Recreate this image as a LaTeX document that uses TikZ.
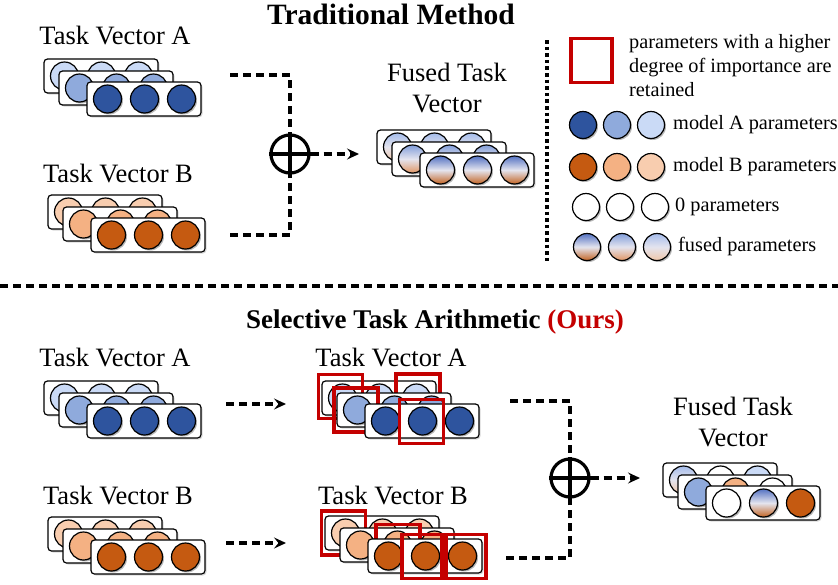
\documentclass[tikz,border=0pt]{standalone}
\usepackage{fontspec}
\setmainfont{Liberation Serif}
\usetikzlibrary{arrows.meta,shadows}
\definecolor{Ad}{RGB}{46,84,158}
\definecolor{Am}{RGB}{143,170,220}
\definecolor{Al}{RGB}{202,218,246}
\definecolor{Bd}{RGB}{197,90,17}
\definecolor{Bm}{RGB}{244,177,131}
\definecolor{Bl}{RGB}{248,205,175}
\definecolor{Fdt}{RGB}{85,115,195}
\definecolor{Fdb}{RGB}{195,100,35}
\definecolor{Fmt}{RGB}{130,158,218}
\definecolor{Fmb}{RGB}{225,150,100}
\definecolor{Flt}{RGB}{165,188,235}
\definecolor{Flb}{RGB}{240,198,168}
\definecolor{Fmid}{RGB}{228,228,238}
\definecolor{selred}{RGB}{196,0,0}
\tikzset{
  vrect/.style={draw=black, line width=1.2pt, rounded corners=3.5pt, fill=white,
    minimum width=114pt, minimum height=34pt, inner sep=0pt, outer sep=0pt,
    drop shadow={shadow xshift=1.5pt, shadow yshift=-1.5pt, opacity=0.3}},
  par/.style={circle, draw=black, line width=1.2pt, minimum size=28pt, inner sep=0pt, outer sep=0pt},
  pshadow/.style={fill=black, opacity=0.28},
  cAd/.style={fill=Ad}, cAm/.style={fill=Am}, cAl/.style={fill=Al},
  cBd/.style={fill=Bd}, cBm/.style={fill=Bm}, cBl/.style={fill=Bl},
  cZ/.style={fill=white},
  cFd/.style={top color=Fdt, bottom color=Fdb, middle color=Fmid},
  cFm/.style={top color=Fmt, bottom color=Fmb, middle color=Fmid},
  cFl/.style={top color=Flt, bottom color=Flb, middle color=Fmid},
  sel/.style={rectangle, draw=selred, line width=3.2pt, minimum size=44pt, inner sep=0pt},
  dline/.style={line width=3.1pt, dash pattern=on 8pt off 5pt},
  darrow/.style={dline, -{Stealth[length=12pt,width=11pt,inset=4.5pt]}},
  oplus/.style={circle, draw=black, line width=3.2pt, minimum size=38pt, inner sep=0pt},
  lbl/.style={font=\fontsize{26.5}{31}\selectfont, inner sep=0pt, align=center},
  ttlA/.style={font=\fontsize{29.5}{32}\selectfont\bfseries, inner sep=0pt},
  ttlB/.style={font=\fontsize{27}{32}\selectfont\bfseries, inner sep=0pt},
  leg/.style={font=\fontsize{20.3}{24}\selectfont, inner sep=0pt, align=left},
  legc/.style={par, minimum size=27pt}
}
\newcommand\vrow[6]{%
  \node[vrect, anchor=north west] (#1) at (#2,#3) {};
  \fill[pshadow] ({#2+22},{#3+18.5}) circle (14);
  \fill[pshadow] ({#2+59},{#3+18.5}) circle (14);
  \fill[pshadow] ({#2+96},{#3+18.5}) circle (14);
  \node[par,#4] (#1-1) at ({#2+20.5},{#3+17}) {};
  \node[par,#5] (#1-2) at ({#2+57.5},{#3+17}) {};
  \node[par,#6] (#1-3) at ({#2+94.5},{#3+17}) {};
}
\newcommand\vgroup[6]{%
  \vrow{#1b}{#2}{#3}{#4}{#4}{#4}
  \vrow{#1m}{#2+15}{#3+12}{#5}{#5}{#5}
  \vrow{#1f}{#2+43}{#3+23}{#6}{#6}{#6}
}
\begin{document}
\begin{tikzpicture}[x=1pt,y=-1pt]
\useasboundingbox[fill=white] (0,0) rectangle (838,584);

% ---------- Traditional method ----------
\node[ttlA] (t1) at (391,14) {Traditional Method};
\node[lbl] (uAt) at (115,36) {Task Vector A};
\node[lbl] (uBt) at (118,174) {Task Vector B};
\node[lbl] (uFt) at (447,88) {Fused Task\\Vector};

\vgroup{uA}{44}{59}{cAl}{cAm}{cAd}
\vgroup{uB}{48}{195}{cBl}{cBm}{cBd}
\vgroup{uF}{377}{130}{cFl}{cFm}{cFd}

\node[oplus] (op1) at (290,154) {};
\draw[line width=3.2pt] (op1.north) -- (op1.south) (op1.west) -- (op1.east);
\coordinate (ua) at (230,75);
\coordinate (ub) at (230,235);
\coordinate (ue) at (359,154);
\draw[dline] (ua) -| (op1.north);
\draw[dline] (ub) -| (op1.south);
\draw[darrow] (op1.east) -- (ue);

% legend
\coordinate (d1) at (547,40);
\coordinate (d2) at (547,262);
\draw[line width=3.6pt, dash pattern=on 3.6pt off 3pt] (d1) -- (d2);
\node[rectangle, draw=selred, line width=3.2pt, minimum width=41pt, minimum height=44pt, inner sep=0pt] (lsel) at (591.5,60.5) {};
\node[leg, anchor=west] (lselt) at (629,66) {parameters with a higher\\degree of importance are\\retained};

\foreach \i/\xx/\s in {1/583/Ad,2/617/Am,3/651/Al}{
  \fill[pshadow] (\xx+1.5,126.5) circle (13.5);
  \node[legc, fill=\s] (lA\i) at (\xx,125) {};
}
\node[leg, anchor=west] (lAt) at (673,125) {model A parameters};
\foreach \i/\xx/\s in {1/583/Bd,2/617/Bm,3/651/Bl}{
  \fill[pshadow] (\xx+1.5,168.5) circle (13.5);
  \node[legc, fill=\s] (lB\i) at (\xx,167) {};
}
\node[leg, anchor=west] (lBt) at (673,167) {model B parameters};
\foreach \i/\xx in {1/586,2/620,3/655}{
  \fill[pshadow] (\xx+1.5,208.5) circle (13.5);
  \node[legc, fill=white] (lZ\i) at (\xx,207) {};
}
\node[leg, anchor=west] (lZt) at (675,207) {0 parameters};
\fill[pshadow] (588.5,248.5) circle (13.5);
\fill[pshadow] (623.5,248.5) circle (13.5);
\fill[pshadow] (658.5,248.5) circle (13.5);
\node[legc, cFd] (lF1) at (587,247) {};
\node[legc, cFm] (lF2) at (622,247) {};
\node[legc, cFl] (lF3) at (657,247) {};
\node[leg, anchor=west] (lFt) at (678,247) {fused parameters};

% separator
\coordinate (s1) at (0,286);
\coordinate (s2) at (838,286);
\draw[line width=3.1pt, dash pattern=on 8pt off 5pt] (s1) -- (s2);

% ---------- Selective Task Arithmetic ----------
\node[ttlB] (t2) at (435,322) {Selective Task Arithmetic \textcolor{selred}{(Ours)}};
\node[lbl] (lAt2) at (115,358) {Task Vector A};
\node[lbl] (lBt2) at (118,495) {Task Vector B};
\node[lbl] (mAt) at (391,358) {Task Vector A};
\node[lbl] (mBt) at (393,495) {Task Vector B};
\node[lbl] (lFt2) at (733,422) {Fused Task\\Vector};

\vgroup{lA}{44}{381}{cAl}{cAm}{cAd}
\vgroup{lB}{48}{517}{cBl}{cBm}{cBd}

% middle A with selections
\vrow{mAb}{322}{381}{cAl}{cAl}{cAl}
\node[sel] (sA1) at ([shift={(-2pt,1.5pt)}]mAb-1) {};
\node[sel] (sA2) at ([shift={(1.5pt,2pt)}]mAb-3) {};
\vrow{mAm}{337}{393}{cAm}{cAm}{cAm}
\node[sel] (sA3) at ([shift={(-1.5pt,0pt)}]mAm-1) {};
\vrow{mAf}{365}{404}{cAd}{cAd}{cAd}
\node[sel] (sA4) at ([shift={(-1pt,-0.5pt)}]mAf-2) {};

% middle B with selections
\vrow{mBb}{325}{516}{cBl}{cBl}{cBl}
\node[sel] (sB1) at ([shift={(-2pt,0pt)}]mBb-1) {};
\vrow{mBm}{340}{528}{cBm}{cBm}{cBm}
\node[sel] (sB2) at ([shift={(0.5pt,-1.5pt)}]mBm-2) {};
\vrow{mBf}{368}{539}{cBd}{cBd}{cBd}
\node[sel] (sB3) at ([shift={(-1.5pt,-0.5pt)}]mBf-2) {};
\node[sel] (sB4) at ([shift={(1.5pt,-0.5pt)}]mBf-3) {};

% fused result
\vrow{lFb}{663}{463}{cFl}{cZ}{cAl}
\vrow{lFm}{678}{475}{cAm}{cBm}{cZ}
\vrow{lFf}{706}{486}{cZ}{cFd}{cBd}

\coordinate (la1) at (226,404);
\coordinate (la2) at (286,404);
\coordinate (lb1) at (226,543);
\coordinate (lb2) at (286,543);
\draw[darrow] (la1) -- (la2);
\draw[darrow] (lb1) -- (lb2);

\node[oplus] (op2) at (570,478) {};
\draw[line width=3.2pt] (op2.north) -- (op2.south) (op2.west) -- (op2.east);
\coordinate (ma) at (510,401);
\coordinate (mb) at (506,558);
\coordinate (me) at (640,478);
\draw[dline] (ma) -| (op2.north);
\draw[dline] (mb) -| (op2.south);
\draw[darrow] (op2.east) -- (me);
\end{tikzpicture}
\end{document}
